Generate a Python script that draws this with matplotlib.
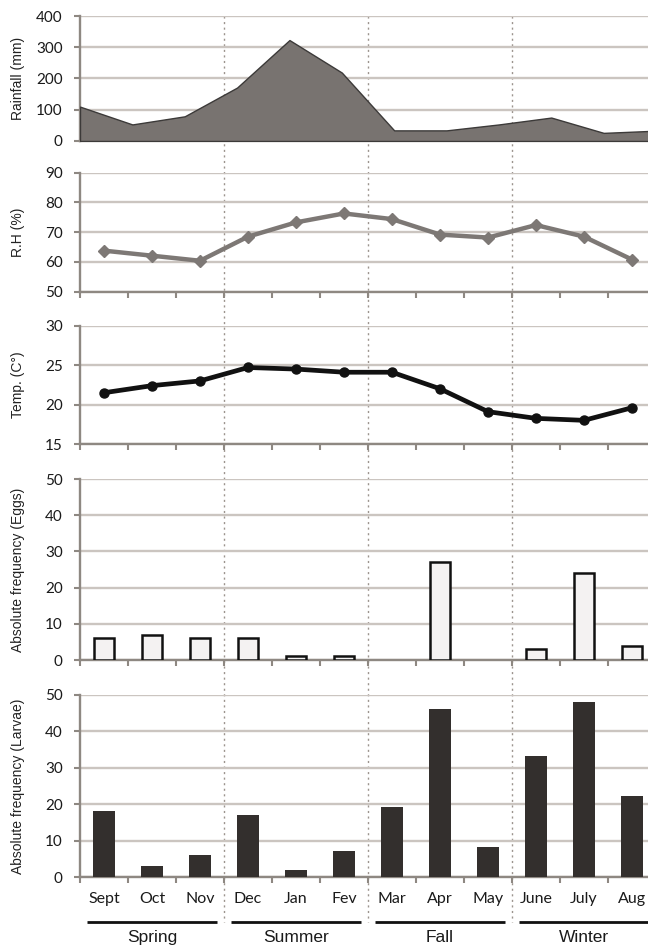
import matplotlib
matplotlib.use("Agg")
import matplotlib.pyplot as plt
import matplotlib.transforms as mtransforms
from matplotlib.lines import Line2D
import numpy as np

months = ["Sept", "Oct", "Nov", "Dec", "Jan", "Fev", "Mar", "Apr", "May", "June", "July", "Aug"]
seasons = ["Spring", "Summer", "Fall", "Winter"]
rainfall = [110, 53, 79, 171, 323, 219, 34, 34, 53, 75, 26, 33]
rh = [63.8, 62.1, 60.4, 68.5, 73.3, 76.3, 74.4, 69.2, 68.2, 72.4, 68.5, 60.8]
temp = [21.5, 22.4, 23.0, 24.7, 24.5, 24.1, 24.1, 22.0, 19.1, 18.25, 18.0, 19.6]
eggs = [6, 7, 6, 6, 1, 1, 0, 27, 0, 3, 24, 4]
larvae = [18.2, 3.1, 6.1, 17.1, 2.0, 7.2, 19.3, 46.1, 8.3, 33.2, 48.0, 22.2]

W, H = 648, 947
fig = plt.figure(figsize=(W / 100, H / 100), dpi=100)
fig.patch.set_facecolor("white")

SPINE = "#8e8882"
GRID = "#cbc5c0"
TICKFONT = "Lato"
LABFONT = "Liberation Sans"


def add_ax(top, bottom):
    return fig.add_axes([80 / W, 1 - bottom / H, 576 / W, (bottom - top) / H])


def style(ax, yticks, ylabel, xticks=True):
    ax.set_ylim(yticks[0], yticks[-1])
    ax.set_yticks(yticks)
    ax.yaxis.grid(True, color=GRID, lw=1.7)
    ax.set_axisbelow(True)
    for s in ["top", "right"]:
        ax.spines[s].set_visible(False)
    for s in ["left", "bottom"]:
        ax.spines[s].set_color(SPINE)
        ax.spines[s].set_linewidth(1.7)
    ax.tick_params(axis="y", direction="out", length=4.5, width=1.5, color=SPINE, pad=8)
    for lab in ax.get_yticklabels():
        lab.set_fontfamily(TICKFONT)
        lab.set_fontsize(11)
        lab.set_color("#1a1a1a")
    ax.set_ylabel(ylabel, fontfamily=LABFONT, fontsize=10, color="#222222")
    ax.yaxis.set_label_coords(-55 / 576, 0.5)
    if xticks:
        ax.set_xlim(-0.5, len(months) - 0.5)
        ax.set_xticks(np.arange(len(months) + 1) - 0.5)
        ax.set_xticklabels([])
        ax.tick_params(axis="x", which="major", direction="out", length=4.5, width=1.5, color=SPINE)
    ax.set_facecolor("none")


x = np.arange(len(months))

# Rainfall
ax1 = add_ax(16, 141)
ax1.fill_between(x, rainfall, 0, facecolor="#787370", edgecolor="#3c3a39", lw=1.0, zorder=3)
style(ax1, [0, 100, 200, 300, 400], "Rainfall (mm)", xticks=False)
ax1.set_xlim(0, len(months) - 1)
ax1.set_xticks([])

# RH
ax2 = add_ax(172.7, 291.7)
ax2.plot(x, rh, color="#7d7875", lw=3.2, marker="D", markersize=6, zorder=3)
style(ax2, [50, 60, 70, 80, 90], "R.H (%)")

# Temperature
ax3 = add_ax(325.7, 444)
ax3.plot(x, temp, color="#111111", lw=3.4, marker="o", markersize=6.5, zorder=3)
style(ax3, [15, 20, 25, 30], "Temp. (C°)")

# Eggs
ax4 = add_ax(479, 660)
ex = [i for i, v in enumerate(eggs) if v > 0]
ev = [v for v in eggs if v > 0]
ax4.bar(ex, ev, width=0.42, facecolor="#f4f2f2", edgecolor="#111111", lw=1.8, zorder=3)
style(ax4, [0, 10, 20, 30, 40, 50], "Absolute frequency (Eggs)")

# Larvae
ax5 = add_ax(695, 877)
ax5.bar(x, larvae, width=0.45, color="#332f2d", zorder=3)
style(ax5, [0, 10, 20, 30, 40, 50], "Absolute frequency (Larvae)")
ax5.set_xticks(x, minor=True)
ax5.set_xticklabels(months, minor=True, fontfamily=TICKFONT, fontsize=11.5, color="#1a1a1a")
ax5.tick_params(axis="x", which="minor", length=0, pad=11)

# Season separators (dotted verticals spanning the figure)
trans = mtransforms.blended_transform_factory(ax5.transData, fig.transFigure)
for b in [2.5, 5.5, 8.5]:
    fig.add_artist(Line2D([b, b], [1 - 16 / H, 1 - 922 / H], transform=trans,
                          color="#9c948e", lw=1.0, linestyle=(0, (1.5, 2.5)), zorder=-1))

# Season underlines and names
for k, name in enumerate(seasons):
    start = -0.5 + 3 * k
    fig.add_artist(Line2D([start + 0.14, start + 3 - 0.14], [1 - 922 / H, 1 - 922 / H],
                          transform=trans, color="#111111", lw=2.0, solid_capstyle="butt"))
    fig.text(start + 1.5, 1 - 937 / H, name, transform=trans, ha="center", va="center",
             fontfamily=LABFONT, fontsize=12.5, color="#1a1a1a")

fig.savefig("out.png", dpi=100)
